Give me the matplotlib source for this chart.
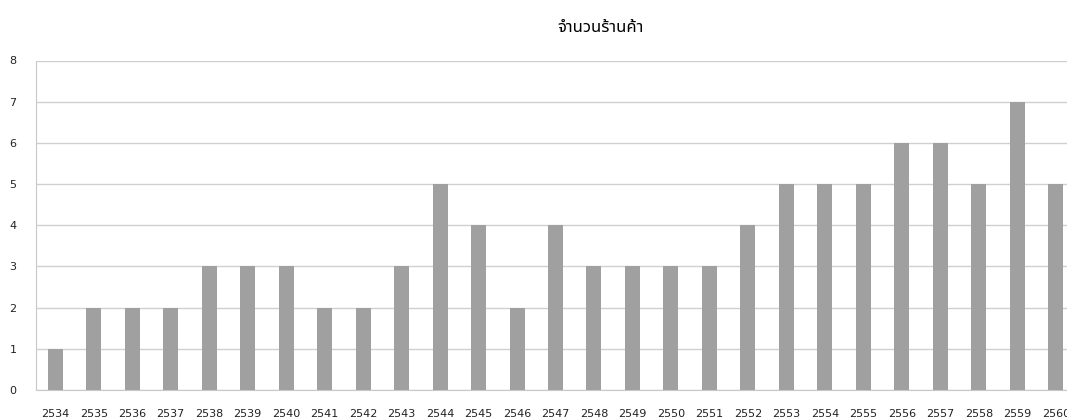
import numpy as np
import matplotlib
matplotlib.use("Agg")
import matplotlib.pyplot as plt

plt.rcParams['font.family'] = ['DejaVu Sans', 'Noto Sans Thai']

years = [str(y) for y in range(2534, 2561)]
stores = [1, 2, 2, 2, 3, 3, 3, 2, 2, 3, 5, 4, 2, 4, 3, 3, 3, 3, 4, 5, 5, 5, 6, 6, 5, 7, 5]
title = 'จำนวนร้านค้า'

fig = plt.figure(figsize=(10.67, 4.17), dpi=100)
# axes runs a little past the right edge, as in the reference
ax = fig.add_axes([36/1067, 1-390/417, (1075-36)/1067, (390-60.5)/417])

x = np.arange(len(years))
ax.bar(x, stores, width=0.39, color='#a0a0a0', zorder=3)
ax.set_xlim(-0.5, len(years)-0.5)
ax.set_ylim(0, 8)
ax.set_yticks(range(0, 9))
ax.set_xticks(x)
ax.set_xticklabels(years)
ax.yaxis.grid(True, color='#d0d0d0', linewidth=1, zorder=0)
for s in ['top', 'right']:
    ax.spines[s].set_visible(False)
ax.spines['left'].set_color('#c8c8c8')
ax.spines['bottom'].set_color('#c8c8c8')
ax.tick_params(axis='both', length=0, labelsize=8, colors='#222222')
ax.tick_params(axis='x', pad=13.5)
ax.tick_params(axis='y', pad=14)

fig.text(600/1067, 1-32/417, title, ha='center', va='baseline',
         fontsize=12, family=['Noto Sans Thai', 'DejaVu Sans'])

fig.savefig('out.png', dpi=100)
